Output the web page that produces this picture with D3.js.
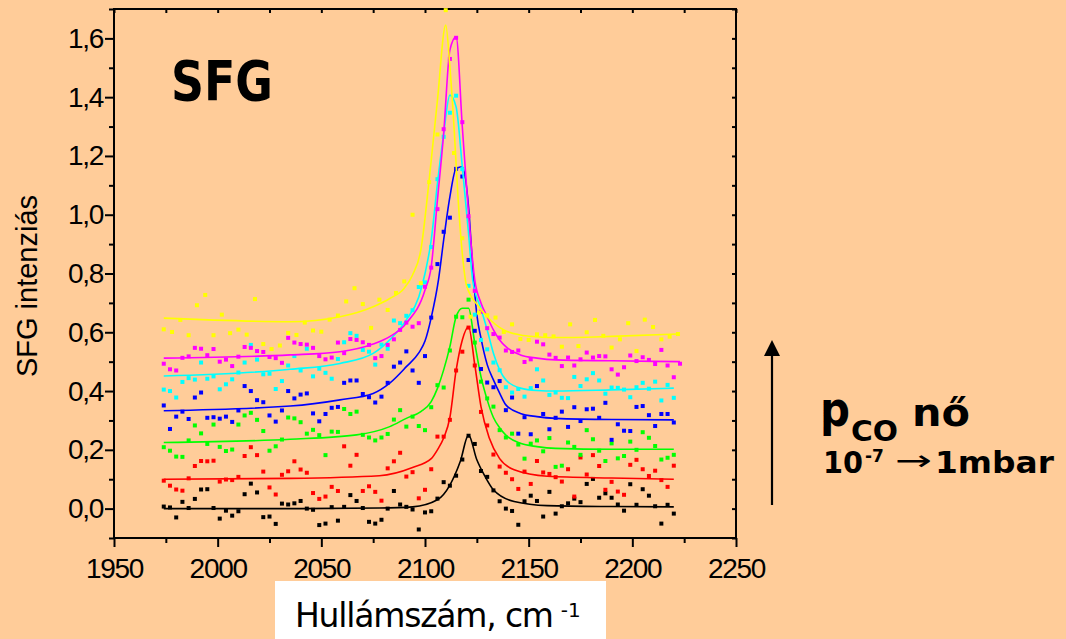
<!DOCTYPE html>
<html>
<head>
<meta charset="utf-8">
<script src="https://cdn.jsdelivr.net/npm/d3@7"></script>
<style>
html, body { margin: 0; padding: 0; background: #ffcc99; overflow: hidden; }
svg { display: block; }
</style>
</head>
<body>
<div id="graph-col"></div>
<script>

// wavenumber grids (cm-1)
var wn3 = [1974,1977,1980,1983,1986,1989,1992,1995,1998,2001,
           2004,2007,2010,2013,2016,2019,2022,2025,2028,2031,
           2034,2037,2040,2043,2046,2049,2052,2055,2058,2061,
           2064,2067,2070,2073,2076,2079,2082,2085,2088,2091,
           2094,2097,2100,2103,2106,2109,2112,2115,2118,2121,
           2124,2127,2130,2133,2136,2139,2142,2145,2148,2151,
           2154,2157,2160,2163,2166,2169,2172,2175,2178,2181,
           2184,2187,2190,2193,2196,2199,2202,2205,2208,2211,
           2214,2217,2220];
var wnMagenta = wn3.concat([2223]);
var wn4 = [1974,1978,1982,1986,1990,1994,1998,2002,2006,2010,
           2014,2018,2022,2026,2030,2034,2038,2042,2046,2050,
           2054,2058,2062,2066,2070,2074,2078,2082,2086,2090,
           2094,2098,2102,2106,2110,2114,2118,2122,2126,2130,
           2134,2138,2142,2146,2150,2154,2158,2162,2166,2170,
           2174,2178,2182,2186,2190,2194,2198,2202,2206,2210,
           2214,2218,2222];

// measured points
var blackY = [0.007,0.004,-0.030,0.023,0.002,0.033,0.065,0.066,0.002,-0.034,-0.007,-0.024,-0.009,0.049,0.085,0.055,-0.029,-0.027,-0.052,0.017,0.014,
              0.018,0.026,0.000,-0.004,-0.056,-0.051,0.005,-0.041,0.006,0.046,0.026,0.002,-0.045,-0.051,-0.038,0.000,0.060,0.014,0.006,-0.003,-0.071,
              -0.013,-0.009,0.034,0.090,0.078,0.112,0.167,0.248,0.220,0.128,0.108,0.062,0.025,0.000,-0.008,-0.055,0.025,0.044,0.026,-0.027,0.057,
              -0.017,0.008,0.018,0.034,0.022,0.084,0.101,0.037,0.052,0.037,0.014,-0.007,0.083,0.013,0.066,0.044,0.008,-0.051,0.013,-0.017];
var redY = [0.095,0.078,0.065,0.061,0.103,0.145,0.162,0.161,0.163,0.092,0.099,0.097,0.108,0.179,0.209,0.182,0.126,0.072,0.048,0.115,0.127,
            0.161,0.133,0.122,0.053,0.033,0.041,0.074,0.060,0.212,0.146,0.183,0.060,0.076,0.057,0.027,0.137,0.161,0.190,0.109,0.124,0.035,
            0.064,0.134,0.245,0.245,0.302,0.470,0.534,0.616,0.487,0.329,0.283,0.184,0.143,0.122,0.100,0.067,0.126,0.084,0.162,0.123,0.118,
            0.107,0.092,0.134,0.041,0.174,0.116,0.182,0.145,0.064,0.091,0.058,0.047,0.149,0.166,0.134,0.111,0.129,0.097,0.074,0.146];
var greenY = [0.209,0.197,0.177,0.176,0.232,0.283,0.256,0.220,0.286,0.210,0.196,0.201,0.286,0.317,0.326,0.302,0.264,0.197,0.212,0.235,0.310,
              0.307,0.294,0.255,0.268,0.250,0.182,0.262,0.261,0.339,0.322,0.330,0.251,0.242,0.232,0.242,0.254,0.303,0.335,0.279,0.313,0.281,
              0.267,0.345,0.420,0.412,0.538,0.653,0.651,0.711,0.565,0.432,0.375,0.347,0.267,0.242,0.255,0.218,0.170,0.221,0.232,0.195,0.240,
              0.142,0.146,0.225,0.210,0.183,0.267,0.236,0.197,0.162,0.222,0.171,0.179,0.228,0.200,0.260,0.241,0.213,0.167,0.173,0.183];
var blueY = [0.351,0.271,0.313,0.330,0.305,0.378,0.395,0.309,0.311,0.306,0.313,0.295,0.334,0.417,0.400,0.369,0.362,0.317,0.296,0.334,0.400,
             0.375,0.388,0.392,0.324,0.297,0.322,0.343,0.346,0.428,0.436,0.436,0.390,0.379,0.361,0.381,0.428,0.483,0.497,0.535,0.470,0.428,
             0.519,0.650,0.832,0.942,0.990,1.156,1.130,0.846,0.605,0.475,0.429,0.413,0.434,0.335,0.378,0.255,0.311,0.253,0.417,0.322,0.270,
             0.309,0.330,0.278,0.345,0.298,0.338,0.340,0.309,0.360,0.234,0.287,0.265,0.264,0.346,0.349,0.318,0.281,0.322,0.322,0.293];
var cyanY = [0.405,0.400,0.378,0.431,0.444,0.439,0.497,0.442,0.450,0.406,0.423,0.440,0.463,0.497,0.557,0.507,0.457,0.459,0.407,0.434,0.487,
             0.519,0.470,0.544,0.450,0.476,0.462,0.442,0.509,0.566,0.597,0.588,0.540,0.534,0.490,0.558,0.544,0.640,0.631,0.656,0.675,0.754,
             0.770,0.890,1.121,1.265,1.347,1.405,1.155,0.758,0.660,0.574,0.542,0.497,0.471,0.413,0.395,0.407,0.381,0.410,0.474,0.436,0.387,
             0.395,0.377,0.376,0.448,0.417,0.440,0.461,0.436,0.391,0.412,0.411,0.405,0.379,0.413,0.428,0.408,0.432,0.368,0.421,0.377];
var magentaY = [0.493,0.474,0.470,0.513,0.518,0.547,0.544,0.522,0.543,0.500,0.507,0.485,0.517,0.550,0.547,0.536,0.533,0.516,0.512,0.496,0.581,
                0.565,0.560,0.558,0.547,0.519,0.508,0.514,0.565,0.529,0.577,0.574,0.566,0.557,0.512,0.519,0.557,0.576,0.608,0.633,0.619,0.631,
                0.755,0.820,1.019,1.291,1.530,1.602,1.315,0.995,0.741,0.670,0.614,0.594,0.582,0.538,0.533,0.538,0.499,0.508,0.568,0.559,0.524,
                0.513,0.485,0.514,0.487,0.508,0.531,0.514,0.519,0.518,0.474,0.456,0.481,0.521,0.502,0.515,0.506,0.492,0.540,0.487,0.447,0.493];
var yellowY = [0.610,0.601,0.642,0.590,0.692,0.727,0.590,0.660,0.597,0.609,0.592,0.713,0.560,0.543,0.555,0.598,
               0.591,0.633,0.606,0.602,0.643,0.657,0.705,0.750,0.696,0.615,0.711,0.676,0.734,0.773,1.000,0.767,
               1.111,1.273,1.696,1.210,0.920,0.653,0.667,0.658,0.650,0.601,0.627,0.577,0.574,0.593,0.590,0.586,
               0.551,0.627,0.553,0.600,0.642,0.588,0.548,0.576,0.631,0.536,0.643,0.618,0.576,0.585,0.594];

// fitted curves
var blackFitX = [1974,2040,2078,2094,2106,2112,2117,2121,2125,2129,2133,2143,2159,2190,2220];
var blackFitY = [0.0,0.0,0.002,0.006,0.03,0.08,0.16,0.25,0.166,0.109,0.064,0.024,0.01,0.007,0.006];
var redFitX = [1974,2035,2078,2094,2103,2106,2109,2112,2115,2118,2121,2124,2127,2131,2136,2143,2159,2190,2220];
var redFitY = [0.10,0.103,0.112,0.14,0.17,0.20,0.24,0.31,0.47,0.574,0.619,0.49,0.347,0.24,0.17,0.132,0.11,0.104,0.10];
var greenFitX = [1974,2035,2067,2083,2091,2098,2103,2106,2109,2112,2115,2118,2121,2124,2127,2130,2133,2136,2139,2146,2154,2163,2190,2220];
var greenFitY = [0.225,0.236,0.251,0.279,0.307,0.33,0.364,0.409,0.472,0.551,0.653,0.682,0.682,0.563,0.449,0.37,0.31,0.275,0.25,0.222,0.211,0.205,0.202,0.202];
var blueFitX = [1974,2035,2059,2075,2083,2091,2097,2100,2103,2106.5,2109,2112,2115,2118,2121,2123,2125,2127,2130,2133,2136,2139,2146,2154,2163,2190,2220];
var blueFitY = [0.333,0.349,0.370,0.392,0.427,0.483,0.53,0.57,0.65,0.778,0.914,1.061,1.157,1.163,1.027,0.823,0.66,0.58,0.49,0.438,0.393,0.353,0.324,0.313,0.307,0.303,0.302];
var cyanFitX = [1974,2035,2059,2075,2083,2091,2097,2100,2103,2106,2109,2112,2115,2118,2121,2123,2127,2130,2133,2136,2139,2146,2154,2163,2190,2220];
var cyanFitY = [0.451,0.474,0.494,0.528,0.574,0.642,0.72,0.80,0.914,1.106,1.276,1.407,1.367,1.163,0.936,0.777,0.68,0.608,0.529,0.472,0.438,0.41,0.402,0.40,0.404,0.41];
var magentaFitX = [1974,2035,2059,2075,2083,2091,2100,2103,2106,2109,2112,2115,2118,2121,2124,2127,2130,2133,2136,2139,2146,2154,2163,2190,2223];
var magentaFitY = [0.512,0.523,0.534,0.560,0.585,0.631,0.744,0.823,1.050,1.276,1.560,1.605,1.299,1.004,0.778,0.70,0.653,0.608,0.574,0.551,0.523,0.512,0.506,0.503,0.50];
var yellowFitX = [1974,2035,2059,2075,2083,2090,2094,2098,2102,2106,2110,2112,2114,2116,2118,2120,2126,2130,2138,2146,2154,2163,2190,2222];
var yellowFitY = [0.648,0.636,0.653,0.687,0.715,0.75,0.795,0.880,1.118,1.390,1.645,1.503,1.299,1.050,0.868,0.76,0.687,0.653,0.608,0.591,0.585,0.582,0.586,0.594];

var xTicks = [1950, 2000, 2050, 2100, 2150, 2200, 2250];
var xMinor = [1975, 2025, 2075, 2125, 2175, 2225];
var yTicks = [0, 0.2, 0.4, 0.6, 0.8, 1.0, 1.2, 1.4, 1.6];
var yMinor = [-0.1, 0.1, 0.3, 0.5, 0.7, 0.9, 1.1, 1.3, 1.5, 1.7];

var series = [
	{col: '#000000', xs: wn3, ys: blackY, fx: blackFitX, fy: blackFitY},
	{col: '#ff0000', xs: wn3, ys: redY, fx: redFitX, fy: redFitY},
	{col: '#00ff00', xs: wn3, ys: greenY, fx: greenFitX, fy: greenFitY},
	{col: '#0000ff', xs: wn3, ys: blueY, fx: blueFitX, fy: blueFitY},
	{col: '#00ffff', xs: wn3, ys: cyanY, fx: cyanFitX, fy: cyanFitY},
	{col: '#ff00ff', xs: wnMagenta, ys: magentaY, fx: magentaFitX, fy: magentaFitY},
	{col: '#ffff00', xs: wn4, ys: yellowY, fx: yellowFitX, fy: yellowFitY}
];

var W = 1066, H = 639;
var padL = 114, padR = 736, padT = 9, padB = 538;

var svg = d3.select('#graph-col')
    .append('svg')
    .attr('width', W)
    .attr('height', H);

svg.append('rect')
    .attr('width', W)
    .attr('height', H)
    .attr('fill', '#ffcc99');

var x = d3.scaleLinear().domain([1950, 2250]).range([padL, padR]);
var y = d3.scaleLinear().domain([-0.1, 1.7]).range([padB, padT]);

var fmt = function(d) { return d3.format('.1f')(d).replace('.', ','); };

var styleAxis = function(g) {
	g.select('.domain').remove();
	g.selectAll('line').attr('stroke', '#000').attr('stroke-width', 2);
	g.selectAll('text')
	    .attr('fill', '#000')
	    .style('font-family', '"Liberation Sans", Arial, sans-serif')
	    .style('font-size', '28px')
	    .style('letter-spacing', '-1.3px');
};

// left axis
svg.append('g').attr('transform', 'translate(' + padL + ',0)')
    .call(d3.axisLeft(y).tickValues(yTicks).tickSize(9).tickPadding(2).tickFormat(fmt))
    .call(styleAxis);
svg.append('g').attr('transform', 'translate(' + padL + ',0)')
    .call(d3.axisLeft(y).tickValues(yMinor).tickSize(5).tickFormat(''))
    .call(styleAxis);

// bottom axis
svg.append('g').attr('transform', 'translate(0,' + padB + ')')
    .call(d3.axisBottom(x).tickValues(xTicks).tickSize(9).tickPadding(11).tickFormat(d3.format('d')))
    .call(styleAxis);
svg.append('g').attr('transform', 'translate(0,' + padB + ')')
    .call(d3.axisBottom(x).tickValues(xMinor).tickSize(5).tickFormat(''))
    .call(styleAxis);

// top and right axes, inward ticks
svg.append('g').attr('transform', 'translate(0,' + padT + ')')
    .call(d3.axisTop(x).tickValues(xTicks.concat(xMinor)).tickSize(-4).tickFormat(''))
    .call(styleAxis);
svg.append('g').attr('transform', 'translate(' + padR + ',0)')
    .call(d3.axisRight(y).tickValues(yTicks.concat(yMinor)).tickSize(-4).tickFormat(''))
    .call(styleAxis);

svg.append('rect')
    .attr('x', padL)
    .attr('y', padT)
    .attr('width', padR - padL)
    .attr('height', padB - padT)
    .attr('fill', 'none')
    .attr('stroke', '#000')
    .attr('stroke-width', 2);

var line = d3.line()
    .x(function(d) { return x(d[0]); })
    .y(function(d) { return y(d[1]); })
    .curve(d3.curveMonotoneX);

var sz = 4;
series.forEach(function(s) {
	var pts = s.ys.map(function(v, i) { return [s.xs[i], v]; });
	var fit = s.fy.map(function(v, i) { return [s.fx[i], v]; });
	svg.append('g').selectAll('rect')
	    .data(pts)
	    .enter()
	    .append('rect')
	    .attr('x', function(d) { return x(d[0]) - sz/2; })
	    .attr('y', function(d) { return y(d[1]) - sz/2; })
	    .attr('width', sz)
	    .attr('height', sz)
	    .attr('fill', s.col);
	svg.append('path')
	    .datum(fit)
	    .attr('d', line)
	    .attr('fill', 'none')
	    .attr('stroke', s.col)
	    .attr('stroke-width', 1.6);
});

// y title
svg.append('text')
    .attr('transform', 'translate(37,286) rotate(-90)')
    .attr('text-anchor', 'middle')
    .style('font-family', '"Liberation Sans", Arial, sans-serif')
    .style('font-size', '29px')
    .text('SFG intenziás');

// x title in white box
svg.append('rect')
    .attr('x', 275).attr('y', 581)
    .attr('width', 331).attr('height', 58)
    .attr('fill', '#ffffff');
var xt = svg.append('text')
    .attr('x', 295).attr('y', 627)
    .style('font-family', '"DejaVu Sans", Verdana, sans-serif')
    .style('font-size', '33px')
    .style('letter-spacing', '-1.2px');
xt.append('tspan').text('Hullámszám, cm');
xt.append('tspan')
    .attr('dx', 8).attr('dy', -10)
    .style('font-size', '20px')
    .style('letter-spacing', '0px')
    .text('-1');

var bold = '"DejaVu Sans", Verdana, sans-serif';

svg.append('text')
    .attr('x', 171).attr('y', 100)
    .attr('textLength', 102)
    .attr('lengthAdjust', 'spacingAndGlyphs')
    .style('font-family', bold)
    .style('font-weight', 'bold')
    .style('font-size', '55px')
    .text('SFG');

// pressure arrow + label
svg.append('line')
    .attr('x1', 772).attr('y1', 505)
    .attr('x2', 772).attr('y2', 352)
    .attr('stroke', '#000')
    .attr('stroke-width', 2.2);
svg.append('path')
    .attr('d', 'M764,356 L772,340 L780,356 Z')
    .attr('fill', '#000');

var lab = svg.append('g')
    .style('font-family', bold)
    .style('font-weight', 'bold');
lab.append('text').attr('x', 820).attr('y', 426)
    .attr('textLength', 30).attr('lengthAdjust', 'spacingAndGlyphs')
    .style('font-size', '48px').text('p');
lab.append('text').attr('x', 851).attr('y', 441)
    .attr('textLength', 47).attr('lengthAdjust', 'spacingAndGlyphs')
    .style('font-size', '28px').text('CO');
lab.append('text').attr('x', 912).attr('y', 426)
    .attr('textLength', 58).attr('lengthAdjust', 'spacingAndGlyphs')
    .style('font-size', '38px').text('nő');
lab.append('text').attr('x', 823).attr('y', 473)
    .attr('textLength', 40).attr('lengthAdjust', 'spacingAndGlyphs')
    .style('font-size', '30px').text('10');
lab.append('text').attr('x', 865).attr('y', 462)
    .style('font-size', '17px').text('-7');
lab.append('text').attr('x', 895).attr('y', 470)
    .attr('textLength', 37).attr('lengthAdjust', 'spacingAndGlyphs')
    .style('font-weight', 'normal')
    .style('font-size', '28px').text('→');
lab.append('text').attr('x', 935).attr('y', 473)
    .attr('textLength', 119).attr('lengthAdjust', 'spacingAndGlyphs')
    .style('font-size', '31px').text('1mbar');

</script>
</body>
</html>
